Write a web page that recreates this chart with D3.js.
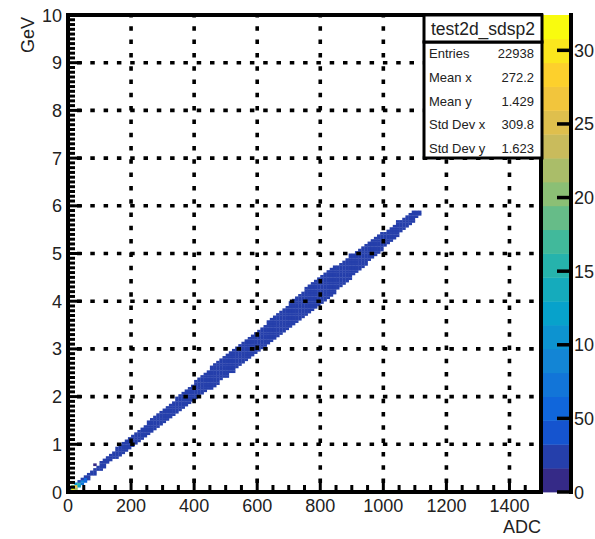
<!DOCTYPE html>
<html><head><meta charset="utf-8">
<script src="https://cdn.jsdelivr.net/npm/d3@7"></script>
<style>
body{margin:0;background:#fff}
svg{display:block}
text{font-family:"Liberation Sans",Arial,Helvetica,sans-serif;fill:#222}
</style>
</head><body>
<svg id="chart" width="595" height="539"></svg>
<script>
// ---- histogram test2d_sdsp2 : GeV vs ADC ----
const xBinWidth = 10;      // ADC per bin
const yBinWidth = 0.05;    // GeV per bin
const zMax = 32.4;
const nContours = 20;

// band of filled bins, one entry per ADC column (column k covers [10k, 10k+10))
const bandLo = [0.00,0.02,0.07,0.12,0.17,0.22,0.27,0.33,0.37,0.43,
  0.47,0.52,0.58,0.63,0.68,0.71,0.76,0.80,0.86,0.92,
  0.95,1.00,1.06,1.11,1.16,1.20,1.25,1.31,1.36,1.41,
  1.45,1.51,1.56,1.62,1.66,1.69,1.74,1.79,1.85,1.90,
  1.93,1.99,2.04,2.10,2.14,2.17,2.22,2.27,2.33,2.38,
  2.42,2.48,2.52,2.58,2.64,2.70,2.76,2.81,2.86,2.92,
  2.96,3.01,3.07,3.12,3.17,3.20,3.25,3.31,3.36,3.41,
  3.45,3.50,3.55,3.61,3.66,3.68,3.73,3.79,3.84,3.89,
  3.95,4.00,4.06,4.11,4.16,4.25,4.30,4.35,4.40,4.46,
  4.54,4.59,4.65,4.70,4.75,4.83,4.89,4.94,4.99,5.04,
  5.13,5.18,5.23,5.29,5.34,5.43,5.48,5.54,5.59,5.64,
  5.74,5.80];
const bandHi = [0.09,0.14,0.19,0.25,0.30,0.36,0.41,0.46,0.52,0.57,
  0.63,0.69,0.74,0.79,0.85,0.93,0.98,1.03,1.09,1.13,
  1.21,1.27,1.31,1.37,1.42,1.49,1.53,1.59,1.64,1.70,
  1.76,1.81,1.87,1.91,1.98,2.05,2.11,2.15,2.21,2.27,
  2.33,2.39,2.44,2.49,2.55,2.63,2.68,2.74,2.78,2.84,
  2.90,2.95,3.01,3.06,3.11,3.14,3.20,3.25,3.30,3.35,
  3.42,3.47,3.52,3.58,3.63,3.70,3.76,3.80,3.86,3.91,
  3.98,4.04,4.09,4.14,4.19,4.28,4.33,4.38,4.44,4.49,
  4.53,4.59,4.64,4.69,4.74,4.77,4.82,4.87,4.92,4.98,
  5.00,5.05,5.10,5.16,5.21,5.23,5.29,5.34,5.39,5.44,
  5.47,5.52,5.57,5.62,5.68,5.69,5.74,5.79,5.84,5.90,
  5.91,5.92];
// typical content of the inner bins of each column, and of its edge bins
const coreCount = [3,3,3,3,3,3,3,3,3,3, 3,3,3,3,3,3,3,3,3,3,
  3,3,3,3,3,3,3,3,3,3, 3,3,3,3,3,3,3,3,3,3,
  3,3,3,3,3,3,3,3,3,3, 3,3,3,3,3,3,3,3,3,3,
  3,3,3,3,3,3,3,3,3,3, 3,3,3,3,3,3,3,3,3,3,
  3,3,3,3,3,3,3,3,3,3, 3,3,3,3,3,3,3,3,3,3,
  3,3,3,3,3,3,3,3,3,3, 3,3];
const edgeCount = 2;
// densely filled bins close to the origin: [ADC bin start, GeV bin start, content]
const hotCells = [[10,0.05,31],[20,0.05,22],[10,0.10,19],[20,0.10,27],
  [30,0.10,12],[30,0.15,15],[20,0.15,11],[40,0.15,8],[40,0.20,9],[50,0.20,6],[50,0.25,5]];
// isolated bins
const strayCells = [[80,0.55,1]];

// axes
const xDomain = [0, 1500];
const yDomain = [0, 10];
const xTicks = [0,200,400,600,800,1000,1200,1400];
const yTicks = [0,1,2,3,4,5,6,7,8,9,10];
const zTicks = [0,5,10,15,20,25,30];
const zTickLabels = ["0","50","10","15","20","25","30"];

// statistics box
const statsTitle = "test2d_sdsp2";
const statsNames = ["Entries","Mean x","Mean y","Std Dev x","Std Dev y"];
const statsValues = ["22938","272.2","1.429","309.8","1.623"];

// kBird palette
const birdStops = [0,0.125,0.25,0.375,0.5,0.625,0.75,0.875,1];
const birdR = [0.2082,0.0592,0.0780,0.0232,0.1802,0.5301,0.8186,0.9956,0.9764];
const birdG = [0.1664,0.3599,0.5041,0.6419,0.7178,0.7492,0.7328,0.7862,0.9832];
const birdB = [0.5293,0.8684,0.8385,0.7914,0.6425,0.4662,0.3499,0.1968,0.0539];

// ---- drawing ----
const svg = d3.select("#chart");
const frame = {left:68, right:541, top:15, bottom:492};
const x = d3.scaleLinear().domain(xDomain).range([frame.left, frame.right]);
const y = d3.scaleLinear().domain(yDomain).range([frame.bottom, frame.top]);
const z = d3.scaleLinear().domain([0, zMax]).range([frame.bottom, frame.top]);

const bird = d3.scaleLinear().domain(birdStops)
  .range(birdStops.map((s,i)=>d3.rgb(birdR[i]*255, birdG[i]*255, birdB[i]*255).toString()))
  .interpolate(d3.interpolateRgb);
const dz = zMax / nContours;
const levelColor = lv => bird(lv / (nContours - 1));
const cellColor = c => levelColor(Math.min(nContours - 1, Math.floor(c / dz)));

// assemble bins
const cells = new Map();
bandLo.forEach((lo, k) => {
  const hi = bandHi[k];
  const js = [];
  for (let j = 0; j < 200; j++) {
    const c = (j + 0.5) * yBinWidth;
    if (c >= lo && c <= hi) js.push(j);
  }
  js.forEach((j, idx) => {
    const edge = idx === 0 || idx === js.length - 1;
    const adc = k * xBinWidth, gev = +(j * yBinWidth).toFixed(3);
    cells.set(adc + "_" + gev, {adc, gev, count: edge ? edgeCount : coreCount[k]});
  });
});
hotCells.concat(strayCells).forEach(([adc, gev, count]) => {
  cells.set(adc + "_" + (+gev.toFixed(3)), {adc, gev, count});
});

svg.append("g").selectAll("rect").data(Array.from(cells.values())).join("rect")
  .attr("x", d => x(d.adc))
  .attr("y", d => y(d.gev + yBinWidth))
  .attr("width", d => x(d.adc + xBinWidth) - x(d.adc) + 0.3)
  .attr("height", d => y(d.gev) - y(d.gev + yBinWidth) + 0.3)
  .attr("fill", d => cellColor(d.count));

// dotted grid
const grid = svg.append("g").attr("stroke", "#000").attr("stroke-width", 3.6)
  .attr("stroke-dasharray", "4.5 8.8").attr("fill", "none");
yTicks.filter(v => v > 0 && v < 10).forEach(v => {
  grid.append("line").attr("x1", frame.left).attr("x2", frame.right)
    .attr("y1", y(v)).attr("y2", y(v)).attr("stroke-dashoffset", -9);
});
xTicks.filter(v => v > 0).forEach(v => {
  grid.append("line").attr("x1", x(v)).attr("x2", x(v))
    .attr("y1", frame.bottom).attr("y2", frame.top).attr("stroke-dashoffset", -9);
});

// ticks (ROOT style, inside the frame)
const ticks = svg.append("g").attr("stroke", "#000").attr("stroke-width", 3);
d3.range(0, 1501, 50).forEach(v => {
  const major = v % 200 === 0;
  ticks.append("line").attr("x1", x(v)).attr("x2", x(v))
    .attr("y1", frame.bottom).attr("y2", frame.bottom - (major ? 13 : 7));
});
d3.range(0, 101, 1).forEach(i => {
  const v = i / 10, major = i % 10 === 0;
  ticks.append("line").attr("x1", frame.left).attr("x2", frame.left + (major ? 14 : 7))
    .attr("y1", y(v)).attr("y2", y(v));
});

// frame
svg.append("rect").attr("x", frame.left).attr("y", frame.top)
  .attr("width", frame.right - frame.left).attr("height", frame.bottom - frame.top)
  .attr("fill", "none").attr("stroke", "#000").attr("stroke-width", 4);

// tick labels
svg.append("g").selectAll("text").data(xTicks).join("text")
  .attr("x", d => x(d)).attr("y", 512).attr("text-anchor", "middle")
  .attr("font-size", 18).text(d => d);
svg.append("g").selectAll("text").data(yTicks).join("text")
  .attr("x", 62).attr("y", d => y(d) + 6.5).attr("text-anchor", "end")
  .attr("font-size", 18).text(d => d);

// axis titles
svg.append("text").attr("x", frame.right).attr("y", 533).attr("text-anchor", "end")
  .attr("font-size", 18).text("ADC");
svg.append("text").attr("transform", "translate(34,17) rotate(-90)")
  .attr("text-anchor", "end").attr("font-size", 18).text("GeV");

// colour scale
const bar = {left:543, right:569};
svg.append("g").selectAll("rect").data(d3.range(nContours)).join("rect")
  .attr("x", bar.left).attr("width", bar.right - bar.left)
  .attr("y", i => z((i + 1) * dz)).attr("height", i => z(i * dz) - z((i + 1) * dz) + 0.4)
  .attr("fill", i => levelColor(i));
svg.append("line").attr("x1", 571).attr("x2", 571).attr("y1", frame.top - 2).attr("y2", frame.bottom + 2)
  .attr("stroke", "#000").attr("stroke-width", 4);
svg.append("g").attr("stroke", "#000").attr("stroke-width", 3.5).selectAll("line").data(zTicks).join("line")
  .attr("x1", 557).attr("x2", 571).attr("y1", d => z(d)).attr("y2", d => z(d));
svg.append("g").selectAll("text").data(zTicks).join("text")
  .attr("x", 574).attr("y", d => z(d) + 6.5).attr("font-size", 18)
  .text((d, i) => zTickLabels[i]);

// statistics box
const sb = {left:424, right:542, titleTop:15, titleBottom:42, bottom:158};
svg.append("rect").attr("x", sb.left).attr("y", sb.titleBottom)
  .attr("width", sb.right - sb.left).attr("height", sb.bottom - sb.titleBottom)
  .attr("fill", "#fff").attr("stroke", "#000").attr("stroke-width", 3);
svg.append("rect").attr("x", sb.left).attr("y", sb.titleTop)
  .attr("width", sb.right - sb.left).attr("height", sb.titleBottom - sb.titleTop)
  .attr("fill", "#fff").attr("stroke", "#000").attr("stroke-width", 3);
svg.append("text").attr("x", (sb.left + sb.right) / 2).attr("y", 35)
  .attr("text-anchor", "middle").attr("font-size", 17.5).text(statsTitle);
statsNames.forEach((n, i) => {
  const by = 58 + i * 23.8;
  svg.append("text").attr("x", 429).attr("y", by).attr("font-size", 13).text(n);
  svg.append("text").attr("x", 534).attr("y", by).attr("text-anchor", "end")
    .attr("font-size", 13).text(statsValues[i]);
});
</script>
</body></html>
